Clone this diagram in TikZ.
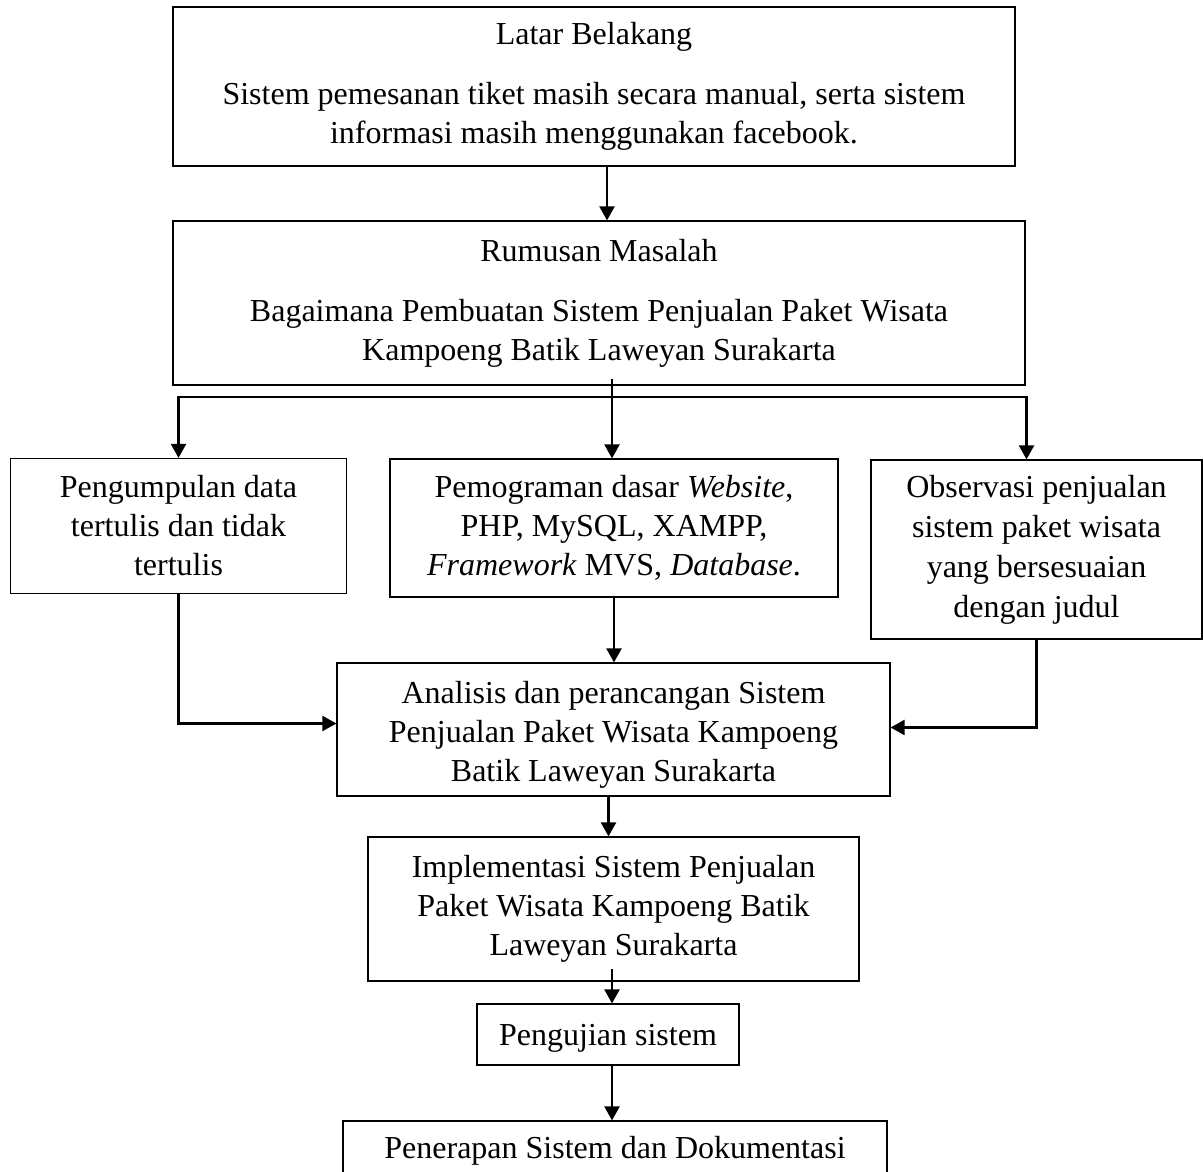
\documentclass[tikz,border=0pt]{standalone}
\usepackage{fontspec}
\setmainfont{Liberation Serif}
\usepackage{tikz}
\usetikzlibrary{arrows.meta}
\newcommand*\atas[1]{\rule{0pt}{#1}}

\begin{document}
\begin{tikzpicture}[x=0.5pt,y=-0.5pt,>={Triangle[length=7pt,width=7.5pt]},
	kotak/.style={shape=rectangle,draw,line width=0.6pt,inner sep=0pt,align=center,
		font=\fontsize{16}{19.5}\selectfont},
	alur/.style={->,line width=1.1pt}]
					\useasboundingbox (0,0) rectangle (1203,1171);
					\node (latar) [kotak,minimum width=421pt,minimum height=79.5pt] at (594,86.5) {
						Latar Belakang\\[10.5pt]
						Sistem pemesanan tiket masih secara manual, serta sistem\\
						informasi masih menggunakan facebook.%
					};
					\node (rumusan) [kotak,minimum width=426pt,minimum height=82pt] at (599,303) {
						Rumusan Masalah\\[10.5pt]
						Bagaimana Pembuatan Sistem Penjualan Paket Wisata\\
						Kampoeng Batik Laweyan Surakarta%
					};
					\node (kumpul) [kotak,minimum width=168pt,minimum height=67.5pt] at (178.5,526) {
						Pengumpulan data\\
						tertulis dan tidak\\
						tertulis%
					};
					\node (program) [kotak,minimum width=224pt,minimum height=69pt] at (614,528) {
						Pemograman dasar \textit{Website},\\
						PHP, MySQL, XAMPP,\\
						\textit{Framework} MVS, \textit{Database}.%
					};
					\node (observasi) [kotak,minimum width=165.5pt,minimum height=89.5pt,
						font=\fontsize{16}{20}\selectfont] at (1036.5,549.5) {
						Observasi penjualan\\
						sistem paket wisata\\
						yang bersesuaian\\
						dengan judul%
					};
					\node (analisis) [kotak,minimum width=276.5pt,minimum height=66.5pt] at (613.5,729.5) {
						\atas{16pt}Analisis dan perancangan Sistem\\
						Penjualan Paket Wisata Kampoeng\\
						Batik Laweyan Surakarta%
					};
					\node (implementasi) [kotak,minimum width=245.5pt,minimum height=72pt] at (613.5,909) {
						Implementasi Sistem Penjualan\\
						Paket Wisata Kampoeng Batik\\
						Laweyan Surakarta%
					};
					\node (pengujian) [kotak,minimum width=131pt,minimum height=30.5pt] at (608,1034.5) {\atas{14pt}Pengujian sistem};
					\node (penerapan) [kotak,minimum width=272pt,minimum height=30pt] at (615,1151) {Penerapan Sistem dan Dokumentasi};
					\coordinate (cabang) at (612,397);
					\coordinate (masuk) at ([xshift=2pt]pengujian.north);
					\coordinate (keluar) at ([xshift=2pt]pengujian.south);

					\path[alur] ([xshift=6.5pt]latar.south) edge ([xshift=6.5pt]latar.south |- rumusan.north);
					\draw[line width=1.1pt] ([yshift=3.5pt]rumusan.south -| cabang) -- (cabang);
					\path[alur] (cabang) edge (cabang |- program.north);
					\draw[alur] (cabang) -| (kumpul.north);
					\draw[alur] (cabang) -| ([xshift=-5pt]observasi.north);
					\draw[alur] (kumpul.south) |- ([yshift=3pt]analisis.west);
					\path[alur] (program.south) edge (program.south |- analisis.north);
					\draw[alur] (observasi.south) |- ([yshift=1pt]analisis.east);
					\path[alur] ([xshift=-2.5pt]analisis.south) edge ([xshift=-2.5pt]implementasi.north);
					\path[alur] ([yshift=6.5pt]implementasi.south -| masuk) edge (masuk);
					\path[alur] (keluar) edge (keluar |- penerapan.north);
				\end{tikzpicture}
\end{document}
